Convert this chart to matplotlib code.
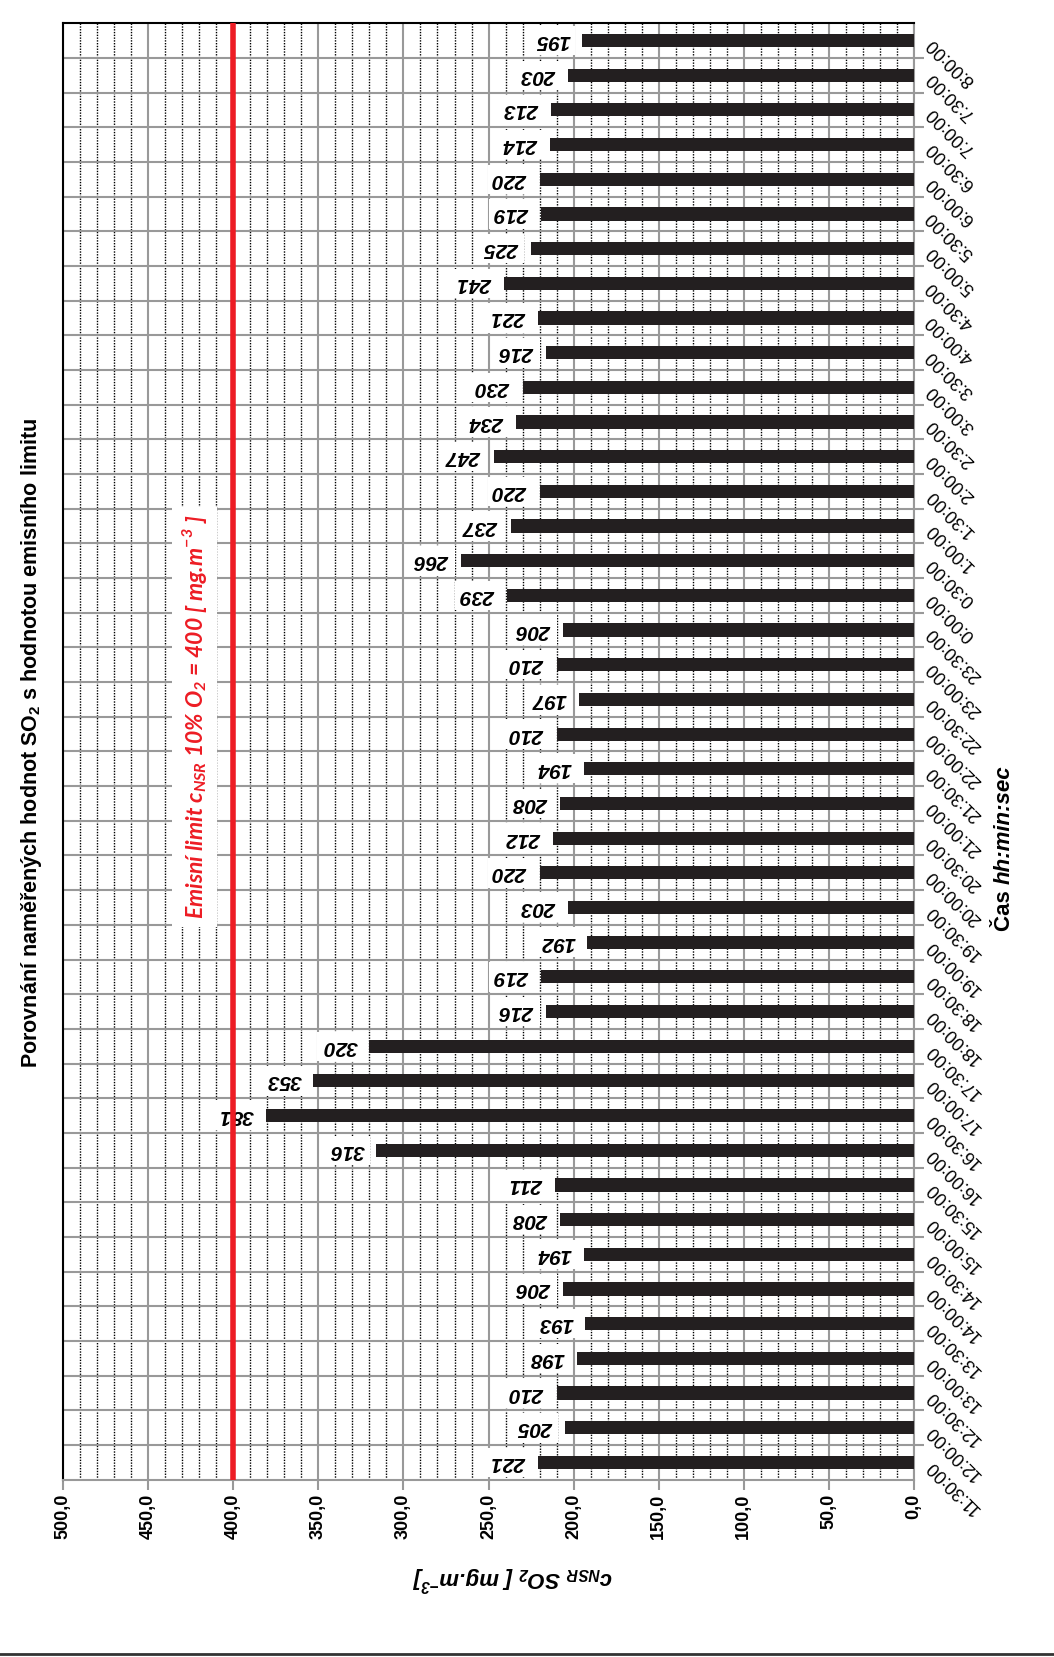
import matplotlib
matplotlib.use("Agg")
import matplotlib.pyplot as plt
from matplotlib.lines import Line2D
from matplotlib.ticker import FixedLocator, MultipleLocator, FuncFormatter

plt.rcParams["font.family"] = ["Liberation Sans", "DejaVu Sans"]

# half-hour measurement times, first (bottom) to last (top)
times = ["11:30:00", "12:00:00", "12:30:00", "13:00:00", "13:30:00", "14:00:00",
         "14:30:00", "15:00:00", "15:30:00", "16:00:00", "16:30:00", "17:00:00",
         "17:30:00", "18:00:00", "18:30:00", "19:00:00", "19:30:00", "20:00:00",
         "20:30:00", "21:00:00", "21:30:00", "22:00:00", "22:30:00", "23:00:00",
         "23:30:00", "0:00:00", "0:30:00", "1:00:00", "1:30:00", "2:00:00",
         "2:30:00", "3:00:00", "3:30:00", "4:00:00", "4:30:00", "5:00:00",
         "5:30:00", "6:00:00", "6:30:00", "7:00:00", "7:30:00", "8:00:00"]
so2 = [221, 205, 210, 198, 193, 206, 194, 208, 211, 316, 381, 353, 320, 216,
       219, 192, 203, 220, 212, 208, 194, 210, 197, 210, 206, 239, 266, 237,
       220, 247, 234, 230, 216, 221, 241, 225, 219, 220, 214, 213, 203, 195]
limit = 400

GRID = "#999999"
fig = plt.figure(figsize=(10.54, 16.57), dpi=100)
ax = fig.add_axes([0.060, 0.107, 0.807, 0.879])

pos = list(range(len(so2)))
ax.barh(pos, so2, height=0.38, color="#231f20", zorder=3)
ax.set_xlim(500, 0)
ax.set_ylim(-0.5, len(so2) - 0.5)

# value axis (bottom) -------------------------------------------------
ax.xaxis.set_major_locator(MultipleLocator(50))
ax.xaxis.set_minor_locator(MultipleLocator(10))
ax.xaxis.set_major_formatter(FuncFormatter(lambda v, _: f"{v:.1f}".replace(".", ",")))
ax.tick_params(axis="x", which="major", direction="out", length=7, width=1.5,
               color=GRID, labelsize=13, labelrotation=90, pad=3)
ax.tick_params(axis="x", which="minor", length=0)
for lab in ax.get_xticklabels():
    lab.set_fontweight("bold")
ax.grid(axis="x", which="major", color=GRID, lw=1.5, zorder=0)
ax.grid(axis="x", which="minor", color="black", lw=1.0, ls=(0, (1, 1)), zorder=0)

# category axis (right) -----------------------------------------------
ax.yaxis.tick_right()
ax.set_yticks(pos)
ax.set_yticklabels(times, rotation=135, rotation_mode="anchor", ha="right",
                   va="center", fontsize=13)
ax.yaxis.set_minor_locator(FixedLocator([p + 0.5 for p in pos[:-1]]))
ax.tick_params(axis="y", which="major", length=0, pad=11)
ax.tick_params(axis="y", which="minor", direction="out", length=7, width=1.5,
               color=GRID, right=True, left=False)
ax.grid(axis="y", which="minor", color=GRID, lw=1.5, zorder=0)
ax.set_axisbelow(True)

for side in ("left", "top"):
    ax.spines[side].set_color("black")
    ax.spines[side].set_linewidth(1.5)
for side in ("right", "bottom"):
    ax.spines[side].set_color(GRID)
    ax.spines[side].set_linewidth(1.5)

# value labels (upside down, white box) --------------------------------
for p, v in zip(pos, so2):
    ax.text(v + 7, p, str(v), rotation=180, rotation_mode="anchor",
            ha="left", va="center", fontsize=15, fontweight="bold",
            fontstyle="italic", zorder=4,
            bbox=dict(boxstyle="square,pad=0.25", fc="white", ec="none"))

# emission limit ------------------------------------------------------
ax.axvline(limit, color="#ed1c24", lw=4, zorder=5)
ax.text(423, 21.5,
        r"Emisní limit c$_\mathregular{NSR}$ 10% O$_\mathregular{2}$ = 400 [ mg.m$^\mathregular{-3}$ ]",
        rotation=90, ha="center", va="center", color="#ed1c24", fontsize=16.5,
        fontweight="bold", fontstyle="italic", family="Lato", zorder=4,
        bbox=dict(boxstyle="square,pad=0.35", fc="white", ec="none"))

# titles --------------------------------------------------------------
fig.text(32 / 1054, 1 - 743 / 1657,
         r"Porovnání naměřených hodnot SO$_\mathregular{2}$ s hodnotou emisního limitu",
         rotation=90, ha="center", va="center", fontsize=15.5, fontweight="bold")
fig.text(1004 / 1054, 1 - 884 / 1657, "Čas ", rotation=90, ha="center",
         va="top", fontsize=16, fontweight="bold")
fig.text(1004 / 1054, 1 - 884 / 1657, "hh:min:sec", rotation=90, ha="center",
         va="bottom", fontsize=16, fontweight="bold", fontstyle="italic")
fig.text(512 / 1054, 1 - 1578 / 1657,
         r"c$_\mathregular{NSR}$ SO$_\mathregular{2}$ [ mg.m$^\mathregular{-3}$]",
         rotation=180, ha="center", va="center", fontsize=16,
         fontweight="bold", fontstyle="italic")

fig.add_artist(Line2D([0, 1], [0.002, 0.002], transform=fig.transFigure,
                      color="#333333", lw=2))

fig.savefig("out.png", dpi=100)
